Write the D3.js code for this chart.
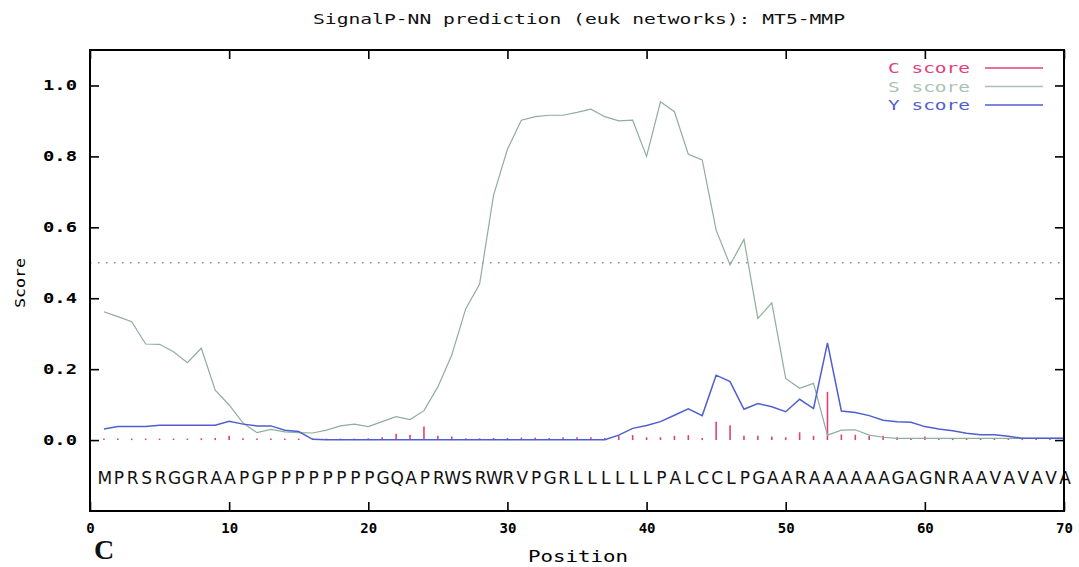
<!DOCTYPE html>
<html>
<head>
<meta charset="utf-8">
<script src="https://cdn.jsdelivr.net/npm/d3@7"></script>
<style>
  html, body { margin: 0; padding: 0; background: #fff; }
  svg { display: block; }
</style>
</head>
<body>
<svg id="chart" width="1079" height="567"></svg>
<script>
// Sequence positions 1..70 and the residue at each
const positions = d3.range(1, 71);
const sequence = "MPRSRGGRAAPGPPPPPPPPGQAPRWSRWRVPGRLLLLLLPALCCLPGAARAAAAAAGAGNRAAVAVAVA".split("");

// C score (cleavage site), drawn as impulses
const cScore = [
  0.004, 0.004, 0.004, 0.004, 0.004, 0.004, 0.004, 0.005, 0.006, 0.012,
  0.005, 0.004, 0.004, 0.004, 0.004, 0.003, 0.003, 0.004, 0.004, 0.005,
  0.008, 0.018, 0.015, 0.038, 0.012, 0.010, 0.005, 0.005, 0.006, 0.006,
  0.007, 0.007, 0.006, 0.008, 0.008, 0.008, 0.006, 0.012, 0.014, 0.008,
  0.008, 0.012, 0.014, 0.006, 0.052, 0.042, 0.012, 0.012, 0.010, 0.008,
  0.022, 0.012, 0.136, 0.016, 0.015, 0.012, 0.012, 0.008, 0.005, 0.010,
  0.004, 0.006, 0.006, 0.006, 0.006, 0.005, 0.004, 0.003, 0.003, 0.002
];

// S score (signal peptide)
const sScore = [
  0.362, 0.348, 0.334, 0.271, 0.270, 0.249, 0.218, 0.259, 0.141, 0.099,
  0.048, 0.021, 0.030, 0.023, 0.021, 0.020, 0.028, 0.040, 0.045, 0.038,
  0.052, 0.066, 0.058, 0.083, 0.150, 0.240, 0.370, 0.440, 0.690, 0.820,
  0.902, 0.912, 0.916, 0.916, 0.924, 0.933, 0.912, 0.900, 0.902, 0.800,
  0.954, 0.926, 0.806, 0.790, 0.592, 0.494, 0.566, 0.343, 0.387, 0.174,
  0.146, 0.160, 0.014, 0.028, 0.029, 0.014, 0.008, 0.005, 0.005, 0.005,
  0.005, 0.005, 0.005, 0.005, 0.005, 0.005, 0.005, 0.005, 0.005, 0.005
];

// Y score (combined)
const yScore = [
  0.031, 0.038, 0.038, 0.038, 0.042, 0.042, 0.042, 0.042, 0.042, 0.053,
  0.045, 0.040, 0.040, 0.028, 0.024, 0.002, 0.001, 0.001, 0.001, 0.001,
  0.001, 0.001, 0.001, 0.001, 0.001, 0.001, 0.001, 0.001, 0.001, 0.001,
  0.001, 0.001, 0.001, 0.001, 0.001, 0.001, 0.001, 0.014, 0.033, 0.041,
  0.052, 0.070, 0.088, 0.069, 0.183, 0.165, 0.087, 0.103, 0.094, 0.080,
  0.115, 0.089, 0.274, 0.082, 0.078, 0.069, 0.056, 0.052, 0.050, 0.038,
  0.031, 0.026, 0.019, 0.015, 0.015, 0.011, 0.005, 0.005, 0.005, 0.005
];

const threshold = 0.5;
const yTicks = [0.0, 0.2, 0.4, 0.6, 0.8, 1.0];
const xTicks = [0, 10, 20, 30, 40, 50, 60, 70];
const legendItems = [
  { name: "C score", color: "#e2407a" },
  { name: "S score", color: "#a9c2b3" },
  { name: "Y score", color: "#4f5fd0" }
];

const MONO = "DejaVu Sans Mono, monospace";
const svg = d3.select("#chart");
const plotL = 90, plotR = 1064, plotT = 50, plotB = 511;

const x = d3.scaleLinear().domain([0, 70]).range([plotL, plotR]);
const y = d3.scaleLinear().domain([-0.2, 1.1]).range([plotB, plotT]);

// Title
svg.append("text")
  .attr("x", 579).attr("y", 24)
  .attr("text-anchor", "middle")
  .attr("font-family", MONO)
  .attr("font-size", 14)
  .attr("textLength", 532).attr("lengthAdjust", "spacingAndGlyphs")
  .attr("fill", "#111")
  .text("SignalP-NN prediction (euk networks): MT5-MMP");

// Threshold line
svg.append("line")
  .attr("x1", x(0)).attr("x2", x(70))
  .attr("y1", y(threshold)).attr("y2", y(threshold))
  .attr("stroke", "#8a8a8a").attr("stroke-width", 1.3)
  .attr("stroke-dasharray", "1.5,6.5");

// C score impulses
svg.append("g").selectAll("line")
  .data(positions)
  .join("line")
  .attr("x1", d => x(d)).attr("x2", d => x(d))
  .attr("y1", y(0)).attr("y2", (d, i) => Math.min(y(cScore[i]), y(0) - 1.5))
  .attr("stroke", legendItems[0].color).attr("stroke-width", 1.6);

// S and Y score lines
const lineFor = arr => d3.line().x((d, i) => x(positions[i])).y(d => y(d))(arr);
svg.append("path").attr("d", lineFor(sScore))
  .attr("fill", "none").attr("stroke", "#8fae9c").attr("stroke-width", 1.2);
svg.append("path").attr("d", lineFor(yScore))
  .attr("fill", "none").attr("stroke", legendItems[2].color).attr("stroke-width", 1.5);

// Sequence residues along the positions
svg.append("g").selectAll("text")
  .data(sequence)
  .join("text")
  .attr("x", (d, i) => x(positions[i]) + 1)
  .attr("y", 484)
  .attr("text-anchor", "middle")
  .attr("font-family", "DejaVu Sans, sans-serif")
  .attr("font-size", 17)
  .attr("fill", "#111")
  .text(d => d);

// Axes with inward ticks on all four sides
const tickLen = 9;
const gl = svg.append("g").attr("transform", `translate(${plotL},0)`)
  .call(d3.axisLeft(y).tickValues(yTicks).tickSizeInner(-tickLen).tickSizeOuter(0)
    .tickPadding(13).tickFormat(d3.format(".1f")));
const gr = svg.append("g").attr("transform", `translate(${plotR},0)`)
  .call(d3.axisRight(y).tickValues(yTicks).tickSizeInner(-tickLen).tickSizeOuter(0).tickFormat(""));
const gt = svg.append("g").attr("transform", `translate(0,${plotT})`)
  .call(d3.axisTop(x).tickValues(xTicks).tickSizeInner(-tickLen).tickSizeOuter(0).tickFormat(""));
const gb = svg.append("g").attr("transform", `translate(0,${plotB})`)
  .call(d3.axisBottom(x).tickValues(xTicks).tickSizeInner(-tickLen).tickSizeOuter(0)
    .tickPadding(12).tickFormat(d3.format("d")));

[gl, gr, gt, gb].forEach(g => {
  g.attr("font-family", MONO);
  g.select(".domain").remove();
  g.selectAll(".tick line").attr("stroke", "#000").attr("stroke-width", 1.6);
  g.selectAll(".tick text")
    .attr("font-family", MONO)
    .attr("font-weight", "bold")
    .attr("font-size", 14)
    .attr("fill", "#000");
});
gl.selectAll(".tick text").attr("textLength", 34).attr("lengthAdjust", "spacingAndGlyphs");

// Frame
svg.append("rect")
  .attr("x", plotL).attr("y", plotT)
  .attr("width", plotR - plotL).attr("height", plotB - plotT)
  .attr("fill", "none").attr("stroke", "#000").attr("stroke-width", 2);

// Axis titles
svg.append("text")
  .attr("transform", `translate(25,283) rotate(-90)`)
  .attr("text-anchor", "middle")
  .attr("font-family", MONO)
  .attr("font-size", 14)
  .attr("textLength", 50).attr("lengthAdjust", "spacingAndGlyphs")
  .attr("fill", "#000")
  .text("Score");
svg.append("text")
  .attr("x", 578).attr("y", 562)
  .attr("text-anchor", "middle")
  .attr("font-family", MONO)
  .attr("font-size", 15)
  .attr("textLength", 100).attr("lengthAdjust", "spacingAndGlyphs")
  .attr("fill", "#000")
  .text("Position");

// Panel letter
svg.append("text")
  .attr("x", 94).attr("y", 559)
  .attr("font-family", "Liberation Serif, serif")
  .attr("font-weight", "bold")
  .attr("font-size", 28)
  .attr("fill", "#111")
  .text("C");

// Legend
const lg = svg.append("g");
legendItems.forEach((item, i) => {
  const ly = 68 + i * 18.5;
  lg.append("text")
    .attr("x", 888).attr("y", ly + 5)
    .attr("font-family", MONO)
    .attr("font-size", 14)
    .attr("textLength", 82).attr("lengthAdjust", "spacingAndGlyphs")
    .attr("fill", item.color)
    .text(item.name);
  lg.append("line")
    .attr("x1", 985).attr("x2", 1043)
    .attr("y1", ly).attr("y2", ly)
    .attr("stroke", item.color).attr("stroke-width", 1.3);
});
</script>
</body>
</html>
